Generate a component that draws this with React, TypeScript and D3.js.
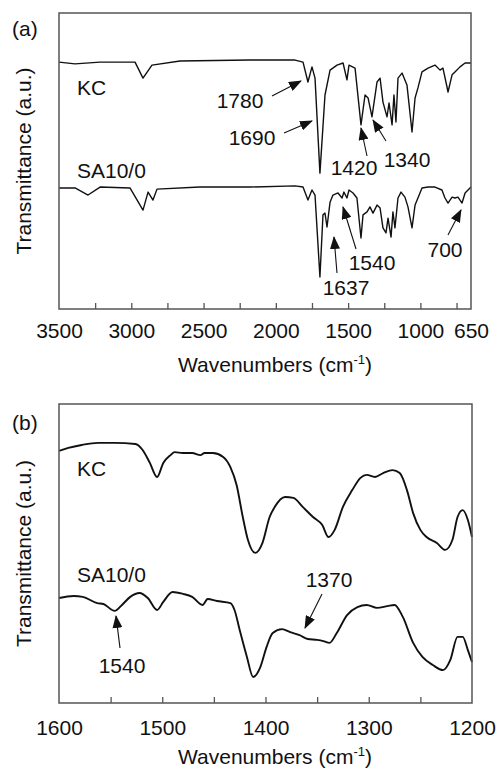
import React, { useEffect, useRef } from 'react';
import * as d3 from 'd3';

// panel (a): full range spectra, [wavenumber, transmittance a.u.]
const kcFull: [number, number][] = [
  [3500, 83.4], [3389, 82.8], [3216, 83.4], [2974, 83.4], [2919, 78.0], [2857, 82.4],
  [2663, 83.8], [2179, 84.1], [1867, 84.1], [1812, 83.4], [1778, 76.7], [1750, 81.8],
  [1729, 78.0], [1695, 45.9], [1660, 72.3], [1625, 80.7], [1577, 82.4], [1535, 83.1],
  [1508, 77.4], [1494, 82.4], [1452, 81.4], [1411, 62.2], [1383, 72.3], [1362, 71.3],
  [1335, 64.9], [1300, 76.7], [1279, 78.0], [1259, 69.9], [1231, 64.9], [1217, 69.6],
  [1196, 62.2], [1183, 72.3], [1169, 63.2], [1155, 78.0], [1127, 79.7], [1093, 75.7],
  [1058, 59.8], [1037, 71.3], [1017, 74.7], [989, 80.1], [947, 81.4], [899, 82.4],
  [864, 80.7], [844, 81.4], [816, 75.0], [809, 73.3], [781, 79.1], [761, 80.1],
  [726, 81.8], [691, 83.1], [650, 83.1],
];

const saFull: [number, number][] = [
  [3500, 40.9], [3389, 40.9], [3299, 38.5], [3216, 41.2], [3009, 40.9], [2919, 33.4],
  [2884, 39.5], [2850, 36.8], [2822, 40.5], [2525, 41.2], [2179, 41.2], [1867, 41.6],
  [1812, 41.2], [1778, 36.8], [1750, 40.2], [1729, 38.5], [1695, 10.8], [1674, 31.8],
  [1660, 32.4], [1646, 27.7], [1625, 36.1], [1605, 38.5], [1570, 39.2], [1542, 37.5],
  [1529, 39.5], [1508, 37.5], [1494, 40.2], [1466, 39.2], [1439, 37.5], [1411, 24.0],
  [1397, 31.8], [1369, 32.8], [1349, 34.5], [1328, 32.4], [1300, 35.1], [1279, 34.1],
  [1259, 27.4], [1238, 25.7], [1224, 30.7], [1203, 24.3], [1190, 32.8], [1176, 27.4],
  [1155, 37.5], [1134, 39.5], [1107, 37.8], [1086, 34.5], [1058, 27.4], [1037, 35.1],
  [1017, 37.5], [989, 40.9], [947, 41.2], [899, 41.2], [851, 40.2], [830, 37.5],
  [809, 35.8], [781, 37.8], [761, 37.5], [740, 37.8], [712, 35.8], [691, 39.2],
  [650, 41.2],
];

// panel (b): 1600-1200 region
const kcZoom: [number, number][] = [
  [1600, 84.3], [1591, 85.3], [1578, 86.3], [1562, 87.0], [1546, 87.0], [1526, 86.6],
  [1519, 84.6], [1512, 80.3], [1505, 75.6], [1499, 80.3], [1492, 82.9], [1488, 83.9],
  [1480, 83.6], [1471, 83.6], [1463, 82.9], [1459, 83.6], [1451, 83.6], [1441, 82.3],
  [1434, 78.9], [1428, 72.9], [1422, 62.2], [1417, 54.5], [1410, 50.2], [1403, 53.5],
  [1396, 62.2], [1391, 65.6], [1381, 68.9], [1373, 68.6], [1364, 65.6], [1354, 62.2],
  [1345, 59.5], [1339, 55.5], [1333, 57.9], [1325, 65.6], [1316, 71.2], [1308, 75.3],
  [1302, 76.3], [1294, 75.6], [1286, 76.9], [1277, 77.9], [1270, 76.9], [1263, 71.2],
  [1257, 63.5], [1250, 57.9], [1244, 55.5], [1234, 53.5], [1226, 51.2], [1219, 54.5],
  [1214, 62.2], [1209, 64.5], [1204, 61.2], [1200, 55.5],
];

const saZoom: [number, number][] = [
  [1600, 35.1], [1586, 35.8], [1577, 35.5], [1563, 33.4], [1557, 33.1], [1546, 30.8],
  [1539, 32.8], [1531, 35.5], [1522, 36.8], [1514, 35.1], [1505, 31.1], [1499, 33.8],
  [1490, 37.1], [1480, 36.5], [1471, 35.5], [1461, 32.8], [1456, 34.8], [1447, 34.1],
  [1434, 33.4], [1430, 31.1], [1425, 24.4], [1418, 15.4], [1412, 8.7], [1405, 12.0],
  [1399, 18.7], [1393, 23.4], [1384, 24.7], [1376, 23.7], [1367, 22.7], [1359, 21.4],
  [1350, 21.1], [1344, 20.7], [1338, 20.1], [1331, 23.4], [1321, 29.4], [1311, 32.1],
  [1302, 32.8], [1292, 31.8], [1282, 32.4], [1275, 32.8], [1267, 28.8], [1257, 20.1],
  [1248, 15.4], [1238, 12.7], [1228, 11.0], [1221, 14.4], [1214, 22.1], [1209, 22.1],
  [1204, 17.7], [1200, 13.7],
];

const ticksA = [3250, 3000, 2750, 2500, 2250, 2000, 1750, 1500, 1250, 1000, 750];
const labelsA = [3500, 3000, 2500, 2000, 1500, 1000, 650];
const ticksB = [1550, 1500, 1450, 1400, 1350, 1300, 1250];
const labelsB = [1600, 1500, 1400, 1300, 1200];

// annotations: text, text position, arrow tail -> tip (pixels)
const notesA = [
  { text: '1780', x: 240, y: 108, from: [272, 96], to: [301, 81] },
  { text: '1690', x: 252, y: 145, from: [284, 133], to: [312, 121] },
  { text: '1420', x: 354, y: 175, from: [367, 156], to: [361, 128] },
  { text: '1340', x: 407, y: 167, from: [386, 141], to: [373, 120] },
  { text: '1637', x: 346, y: 295, from: [337, 273], to: [334, 237] },
  { text: '1540', x: 372, y: 270, from: [356, 249], to: [343, 207] },
  { text: '700', x: 445, y: 257, from: [448, 235], to: [461, 210] },
];
const notesB = [
  { text: '1540', x: 122, y: 673, from: [120, 648], to: [116, 616] },
  { text: '1370', x: 329, y: 587, from: [322, 594], to: [305, 628] },
];

const FONT = '"Liberation Sans", Arial, sans-serif';

export default function App() {
  const ref = useRef<SVGSVGElement>(null);

  useEffect(() => {
    document.body.style.margin = '0';
    const svg = d3.select(ref.current);
    svg.selectAll('*').remove();
    svg.attr('width', 498).attr('height', 771).style('font-family', FONT).style('display', 'block');

    svg.append('defs').append('marker')
      .attr('id', 'head')
      .attr('markerUnits', 'userSpaceOnUse')
      .attr('viewBox', '0 0 13 10')
      .attr('refX', 12).attr('refY', 5)
      .attr('markerWidth', 13).attr('markerHeight', 10)
      .attr('orient', 'auto')
      .append('path').attr('d', 'M0,0 L13,5 L0,10 Z').attr('fill', '#111');

    const panel = (cfg: any) => {
      const { left, right, top, bottom, xDomain, series, ticks, labels, pad, lw, curve, notes, tag, tagY, names, titleY } = cfg;
      const x = d3.scaleLinear().domain(xDomain).range([left, right]);
      const y = d3.scaleLinear().domain([0, 100]).range([bottom, top]);
      const g = svg.append('g');

      const line = d3.line<[number, number]>().x(d => x(d[0])).y(d => y(d[1])).curve(curve);
      series.forEach((s: [number, number][]) => {
        g.append('path').attr('d', line(s)).attr('fill', 'none')
          .attr('stroke', '#111').attr('stroke-width', lw).attr('stroke-linejoin', 'round');
      });

      g.append('rect').attr('x', left).attr('y', top)
        .attr('width', right - left).attr('height', bottom - top)
        .attr('fill', 'none').attr('stroke', '#555').attr('stroke-width', 1.5);

      const minor = g.append('g').attr('transform', `translate(0,${bottom})`)
        .call(d3.axisBottom(x).tickValues(ticks).tickSizeInner(-6).tickSizeOuter(0).tickFormat(() => ''));
      minor.select('.domain').remove();
      minor.selectAll('line').attr('stroke', '#555').attr('stroke-width', 1.3);

      const lab = g.append('g').attr('transform', `translate(0,${bottom})`)
        .call(d3.axisBottom(x).tickValues(labels).tickSize(0).tickPadding(pad).tickFormat(d3.format('d')));
      lab.select('.domain').remove();
      lab.selectAll('text').attr('font-size', 21).attr('font-family', FONT).attr('fill', '#111');

      const title = g.append('text').attr('x', 275).attr('y', titleY)
        .attr('text-anchor', 'middle').attr('font-size', 21).attr('fill', '#111');
      title.append('tspan').text('Wavenumbers (cm');
      title.append('tspan').text('-1').attr('font-size', 13).attr('dy', -8);
      title.append('tspan').text(')').attr('dy', 8);

      g.append('text')
        .attr('transform', `translate(31,${(top + bottom) / 2}) rotate(-90)`)
        .attr('text-anchor', 'middle').attr('font-size', 21).attr('fill', '#111')
        .text('Transmittance (a.u.)');

      g.append('text').attr('x', 12).attr('y', tagY).attr('font-size', 21).attr('fill', '#111').text(tag);

      names.forEach((n: any) => {
        g.append('text').attr('x', 77).attr('y', n.y).attr('font-size', 21).attr('fill', '#111').text(n.text);
      });

      notes.forEach((n: any) => {
        g.append('line').attr('x1', n.from[0]).attr('y1', n.from[1])
          .attr('x2', n.to[0]).attr('y2', n.to[1])
          .attr('stroke', '#111').attr('stroke-width', 1.1).attr('marker-end', 'url(#head)');
        g.append('text').attr('x', n.x).attr('y', n.y).attr('text-anchor', 'middle')
          .attr('font-size', 21).attr('fill', '#111').text(n.text);
      });
    };

    panel({
      left: 59, right: 471, top: 13, bottom: 309, xDomain: [3500, 650],
      series: [kcFull, saFull], ticks: ticksA, labels: labelsA, pad: 14, lw: 1.4,
      curve: d3.curveLinear, notes: notesA, tag: '(a)', tagY: 36, titleY: 372,
      names: [{ text: 'KC', y: 95 }, { text: 'SA10/0', y: 178 }],
    });

    panel({
      left: 59, right: 472, top: 404, bottom: 703, xDomain: [1600, 1200],
      series: [kcZoom, saZoom], ticks: ticksB, labels: labelsB, pad: 17, lw: 1.9,
      curve: d3.curveMonotoneX, notes: notesB, tag: '(b)', tagY: 430, titleY: 764,
      names: [{ text: 'KC', y: 476 }, { text: 'SA10/0', y: 582 }],
    });
  }, []);

  return <svg ref={ref} />;
}
